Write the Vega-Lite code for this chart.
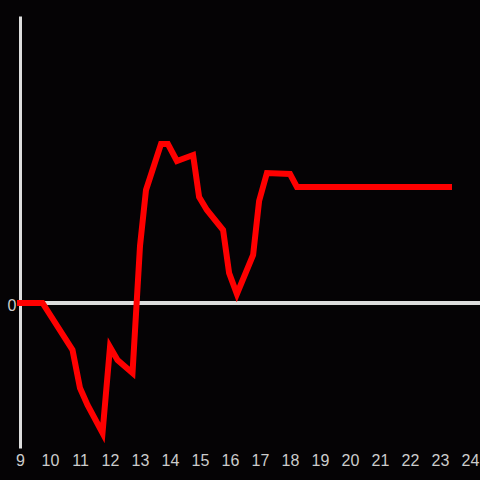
{
  "$schema": "https://vega.github.io/schema/vega-lite/v6.json",
  "autosize": "none",
  "width": 460,
  "height": 432,
  "padding": {"left": 20, "top": 16, "right": 0, "bottom": 32},
  "background": "#050305",
  "config": {"view": {"stroke": null}},
  "data": {"values": [
    {"t": 9.0, "v": 0},
    {"t": 9.75, "v": 0},
    {"t": 10.75, "v": -47},
    {"t": 11.0, "v": -85},
    {"t": 11.25, "v": -102},
    {"t": 11.75, "v": -130},
    {"t": 12.0, "v": -44},
    {"t": 12.25, "v": -57},
    {"t": 12.75, "v": -70},
    {"t": 13.0, "v": 57},
    {"t": 13.2, "v": 113},
    {"t": 13.7, "v": 159},
    {"t": 13.93, "v": 159},
    {"t": 14.23, "v": 142},
    {"t": 14.77, "v": 148},
    {"t": 14.97, "v": 106},
    {"t": 15.23, "v": 93},
    {"t": 15.77, "v": 73},
    {"t": 15.97, "v": 30},
    {"t": 16.23, "v": 9},
    {"t": 16.77, "v": 48},
    {"t": 16.97, "v": 102},
    {"t": 17.23, "v": 130},
    {"t": 18.0, "v": 129},
    {"t": 18.23, "v": 116},
    {"t": 23.3, "v": 116}
  ]},
  "layer": [
    {
      "mark": {"type": "rule", "color": "#dddddd", "strokeWidth": 3},
      "encoding": {"y": {"datum": 0, "type": "quantitative"}}
    },
    {
      "mark": {"type": "line", "color": "#ff0000", "strokeWidth": 6, "strokeCap": "square"},
      "encoding": {
        "x": {"field": "t", "type": "quantitative",
          "scale": {"domain": [9, 24.333], "nice": false, "zero": false},
          "axis": {"values": [9,10,11,12,13,14,15,16,17,18,19,20,21,22,23,24], "title": null, "domain": false, "ticks": false, "grid": false, "labelColor": "#cccccc", "labelFontSize": 16, "labelFont": "Liberation Sans", "labelPadding": 4, "labelFlush": false, "labelOverlap": false}},
        "y": {"field": "v", "type": "quantitative",
          "scale": {"domain": [-145, 287], "nice": false, "zero": false},
          "axis": {"values": [0], "title": null, "domain": true, "domainColor": "#dddddd", "domainWidth": 3, "ticks": false, "grid": false, "labelColor": "#cccccc", "labelFontSize": 16, "labelFont": "Liberation Sans", "labelPadding": 4, "labelOffset": 2}}
      }
    }
  ]
}
